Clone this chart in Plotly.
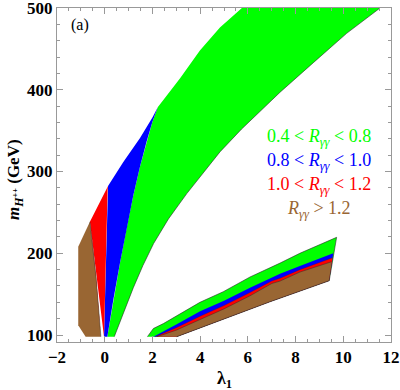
import plotly.graph_objects as go

# ---------------- data ----------------
# x ticks / y ticks
x_tickvals = [-2, 0, 2, 4, 6, 8, 10, 12]
x_ticktext = ["\u22122", "0", "2", "4", "6", "8", "10", "12"]
y_tickvals = [100, 200, 300, 400, 500]
y_ticktext = ["100", "200", "300", "400", "500"]

# ---- upper band (lambda_1 small) ----
# brown outer boundary (top -> left -> bottom)
ub_brown_outer_x = [-0.62, -1.11, -1.11, -0.80, -0.16]
ub_brown_outer_y = [238.6, 208.0, 112.0, 98.0, 98.0]
# brown / red boundary (bottom -> top)
ub_brown_red_x = [-0.16, -0.36, -0.62]
ub_brown_red_y = [98.0, 170.0, 238.6]
# red outer-left edge (brown top -> tip)
ub_red_left_x = [-0.62, -0.24, 0.14]
ub_red_left_y = [238.6, 261.0, 282.4]
# red / blue boundary (tip -> bottom)
ub_red_blue_x = [0.14, 0.12, 0.06, -0.03]
ub_red_blue_y = [282.4, 277.0, 190.0, 98.0]
# blue outer-left edge (tip -> top of blue)
ub_blue_left_x = [0.14, 0.78, 1.48, 2.00, 2.23]
ub_blue_left_y = [282.4, 311.5, 341.0, 366.0, 379.0]
# blue / green boundary (bottom -> top)
ub_blue_green_x = [0.11, 0.36, 0.64, 0.92, 1.20, 1.48, 1.76, 2.00, 2.23]
ub_blue_green_y = [98.0, 143.0, 188.0, 231.0, 271.0, 306.0, 337.0, 361.0, 379.0]
# green outer-left edge (top of blue -> top frame)
ub_green_left_x = [2.23, 2.70, 3.16, 3.99, 4.83, 5.75]
ub_green_left_y = [379.0, 397.0, 414.0, 448.0, 476.0, 500.0]
# green right edge (top -> bottom)
ub_green_right_x = [11.54, 10.14, 8.74, 7.35, 5.74, 4.83, 3.44, 2.67, 2.05, 1.60, 1.20, 0.78, 0.40]
ub_green_right_y = [500.0, 469.0, 433.0, 397.0, 352.0, 324.0, 273.0, 242.0, 212.0, 185.0, 158.0, 127.0, 98.0]

# ---- lower band (lambda_1 large) ----
lb_green_top_x = [1.79, 2.04, 2.46, 3.00, 3.99, 4.97, 6.09, 7.35, 8.18, 9.72]
lb_green_top_y = [98.0, 108.0, 114.0, 123.0, 140.0, 153.0, 171.0, 188.0, 200.0, 219.5]
lb_green_blue_x = [2.04, 2.50, 3.00, 4.00, 5.00, 6.09, 7.00, 7.35, 8.18, 9.58]
lb_green_blue_y = [98.0, 105.0, 113.0, 129.0, 142.0, 158.0, 171.0, 175.0, 184.5, 200.0]
lb_blue_red_x = [2.12, 2.60, 3.00, 4.00, 5.00, 6.09, 7.00, 7.35, 8.18, 9.55]
lb_blue_red_y = [98.0, 104.0, 109.0, 123.0, 136.0, 152.0, 166.0, 169.5, 180.0, 194.5]
lb_red_brown_x = [2.19, 2.70, 3.00, 4.00, 5.00, 6.09, 7.00, 7.35, 8.18, 9.51]
lb_red_brown_y = [98.0, 103.0, 106.0, 119.0, 132.0, 148.0, 163.0, 166.0, 177.0, 189.7]
lb_brown_bottom_x = [3.02, 6.93, 9.41]
lb_brown_bottom_y = [98.0, 140.7, 166.4]

# legend texts
legend_texts = [
    "0.4 &lt; <i>R</i><sub><i>\u03b3\u03b3</i></sub> &lt; 0.8",
    "0.8 &lt; <i>R</i><sub><i>\u03b3\u03b3</i></sub> &lt; 1.0",
    "1.0 &lt; <i>R</i><sub><i>\u03b3\u03b3</i></sub> &lt; 1.2",
    "<i>R</i><sub><i>\u03b3\u03b3</i></sub> &gt; 1.2",
]

# ---------------- styles ----------------
GREEN = "#00ff00"
BLUE = "#0000ff"
RED = "#ff0000"
BROWN = "#996633"
legend_colors = [GREEN, BLUE, RED, BROWN]
EDGE = "rgba(40,40,40,0.75)"
FRAME = "#999999"
FONT = "Liberation Serif"

W, H = 400, 390
L, R, T, B = 57, 9, 8, 48
PW = W - L - R
PH = H - T - B


def rev(a):
    return list(a)[::-1]


def poly(xs, ys, color):
    return go.Scatter(x=xs, y=ys, mode="lines", fill="toself", fillcolor=color,
                      line=dict(width=0, color=color), hoverinfo="skip", showlegend=False)


def edge(xs, ys, w=0.8):
    return go.Scatter(x=xs, y=ys, mode="lines", line=dict(color=EDGE, width=w),
                      hoverinfo="skip", showlegend=False)


fig = go.Figure()

# upper band polygons
fig.add_trace(poly(ub_blue_green_x + ub_green_left_x[1:] + ub_green_right_x,
                   ub_blue_green_y + ub_green_left_y[1:] + ub_green_right_y, GREEN))
fig.add_trace(poly(ub_blue_left_x + rev(ub_blue_green_x) + rev(ub_red_blue_x),
                   ub_blue_left_y + rev(ub_blue_green_y) + rev(ub_red_blue_y), BLUE))
fig.add_trace(poly(ub_red_left_x + ub_red_blue_x + rev(ub_brown_red_x),
                   ub_red_left_y + ub_red_blue_y + rev(ub_brown_red_y), RED))
fig.add_trace(poly(ub_brown_outer_x + ub_brown_red_x,
                   ub_brown_outer_y + ub_brown_red_y, BROWN))
fig.add_trace(edge(ub_green_right_x, ub_green_right_y))
fig.add_trace(edge(ub_brown_red_x, ub_brown_red_y, 0.6))

# lower band polygons (stacked, each down to the brown bottom edge)
bottom_x = rev(lb_brown_bottom_x)
bottom_y = rev(lb_brown_bottom_y)
fig.add_trace(poly(lb_green_top_x + bottom_x, lb_green_top_y + bottom_y, GREEN))
fig.add_trace(poly(lb_green_blue_x + bottom_x, lb_green_blue_y + bottom_y, BLUE))
fig.add_trace(poly(lb_blue_red_x + bottom_x, lb_blue_red_y + bottom_y, RED))
fig.add_trace(poly(lb_red_brown_x + bottom_x, lb_red_brown_y + bottom_y, BROWN))
fig.add_trace(edge(lb_green_top_x + bottom_x, lb_green_top_y + bottom_y))
fig.add_trace(edge(lb_red_brown_x, lb_red_brown_y, 0.6))
fig.add_trace(edge(lb_blue_red_x, lb_blue_red_y, 0.4))

axis_common = dict(
    showline=True, linecolor=FRAME, linewidth=1, mirror="allticks",
    ticks="inside", ticklen=6, tickcolor=FRAME, tickwidth=1,
    showgrid=False, zeroline=False, automargin=False,
    ticklabeloverflow="allow",
    tickfont=dict(family=FONT, size=17, color="black", weight="bold"),
)

fig.update_xaxes(range=[-2, 12], tickvals=x_tickvals, ticktext=x_ticktext,
                 minor=dict(dtick=0.5, tick0=0, ticklen=3, tickcolor=FRAME, ticks="inside"),
                 **axis_common)
fig.update_yaxes(range=[91.5, 500], tickvals=y_tickvals, ticktext=y_ticktext,
                 minor=dict(dtick=20, tick0=0, ticklen=3, tickcolor=FRAME, ticks="inside"),
                 **axis_common)

annotations = []
# legend text
for i, (txt, col) in enumerate(zip(legend_texts, legend_colors)):
    ypx = [137, 161, 185, 209][i]
    annotations.append(dict(xref="paper", yref="paper", x=(319 - L) / PW,
                            y=(H - B - ypx) / PH, text=txt, showarrow=False,
                            xanchor="center", yanchor="middle",
                            font=dict(family=FONT, size=18, color=col)))
# panel label
annotations.append(dict(xref="paper", yref="paper", x=(80 - L) / PW, y=(H - B - 25) / PH,
                        text="(a)", showarrow=False, xanchor="center", yanchor="middle",
                        font=dict(family=FONT, size=16, color="black")))
# axis titles
annotations.append(dict(xref="paper", yref="paper", x=(224 - L) / PW, y=(H - B - 379) / PH,
                        text="<b>\u03bb<sub>1</sub></b>", showarrow=False,
                        xanchor="center", yanchor="middle",
                        font=dict(family=FONT, size=18, color="black")))
annotations.append(dict(xref="paper", yref="paper", x=(15 - L) / PW, y=(H - B - 180) / PH,
                        text="<b><i>m</i><sub><i>H</i><sup>++</sup></sub> (GeV)</b>",
                        showarrow=False, textangle=-90,
                        xanchor="center", yanchor="middle",
                        font=dict(family=FONT, size=17, color="black")))

fig.update_layout(
    width=W, height=H,
    margin=dict(l=L, r=R, t=T, b=B, autoexpand=False),
    paper_bgcolor="white", plot_bgcolor="white",
    showlegend=False,
    annotations=annotations,
)

fig.write_html("out.html", config={"displayModeBar": False},
               post_script="document.body.style.margin='0px';document.body.style.padding='0px';")
